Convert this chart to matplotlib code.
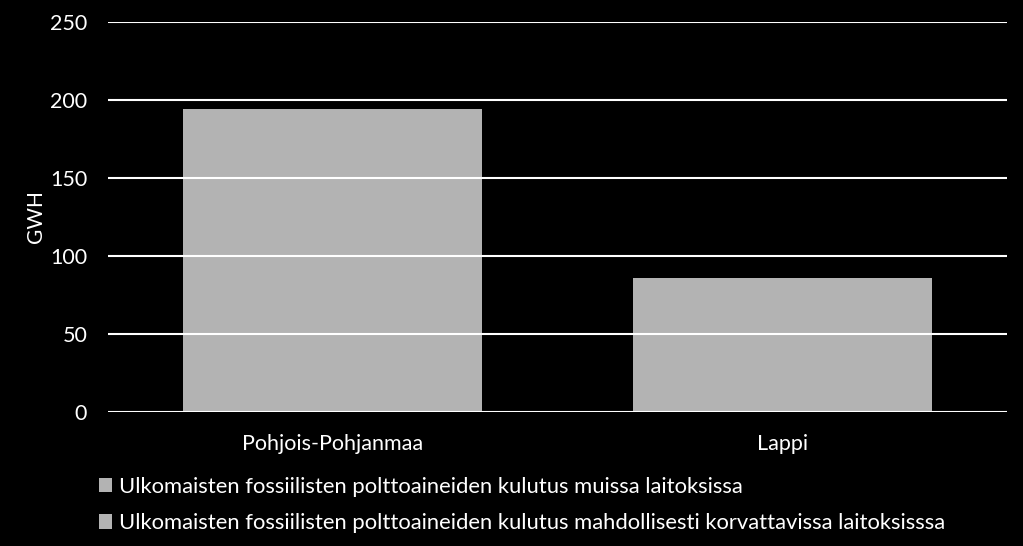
import matplotlib
matplotlib.use("Agg")
import matplotlib.pyplot as plt
from matplotlib.patches import Patch

# data
regions = ["Pohjois-Pohjanmaa", "Lappi"]
muissa = [194, 86]          # kulutus muissa laitoksissa
korvattavissa = [0, 0]      # kulutus mahdollisesti korvattavissa laitoksissa
series_labels = [
    "Ulkomaisten fossiilisten polttoaineiden kulutus muissa laitoksissa",
    "Ulkomaisten fossiilisten polttoaineiden kulutus mahdollisesti korvattavissa laitoksisssa",
]
y_ticks = [0, 50, 100, 150, 200, 250]

plt.rcParams["font.family"] = ["Lato", "DejaVu Sans"]
BG = "black"
BAR = "#b3b3b3"

fig = plt.figure(figsize=(10.23, 5.46), dpi=100, facecolor=BG)
ax = fig.add_axes([108 / 1023, 1 - 412 / 546, 899 / 1023, 390 / 546])
ax.set_facecolor(BG)

x = list(range(len(regions)))
ax.bar(x, muissa, width=0.665, color=BAR, zorder=2)
ax.bar(x, korvattavissa, width=0.665, bottom=muissa, color=BAR, zorder=2)

ax.set_xlim(-0.5, len(regions) - 0.5)
ax.set_ylim(0, 250)
ax.set_yticks(y_ticks)
ax.set_xticks(x)
ax.set_xticklabels(regions)
for yt in y_ticks:
    ax.axhline(yt, color="white", lw=1.5, zorder=3)

ax.tick_params(colors="white", labelsize=15.5, length=0)
ax.tick_params(axis="y", pad=15)
ax.tick_params(axis="x", pad=16)
for s in ax.spines.values():
    s.set_visible(False)
ax.set_ylabel("GWH", color="white", fontsize=15, labelpad=3)

handles = [Patch(facecolor=BAR, label=lab) for lab in series_labels]
fig.legend(handles=handles, loc="upper left", bbox_to_anchor=(79 / 1023, 1 - 457 / 546),
           frameon=False, labelcolor="white", fontsize=15.8, handlelength=0.62,
           handleheight=0.62, handletextpad=0.3, labelspacing=0.75)

fig.savefig("out.png", dpi=100, facecolor=BG)
